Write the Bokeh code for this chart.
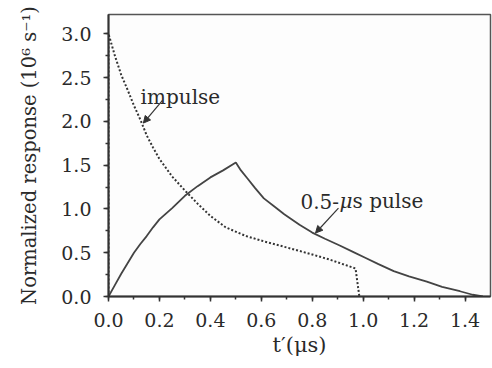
from bokeh.plotting import figure
from bokeh.models import Range1d, Label, Arrow, NormalHead, SingleIntervalTicker, PrintfTickFormatter
from bokeh.embed import file_html
from bokeh.resources import INLINE

# impulse response (dotted)
impulse_t = [0.0, 0.0, 0.01, 0.025, 0.05, 0.075, 0.10, 0.125, 0.15, 0.175, 0.20, 0.25, 0.30, 0.35,
             0.40, 0.46, 0.54, 0.61, 0.70, 0.80, 0.87, 0.97, 0.985]
impulse_y = [0.0, 3.0, 2.90, 2.75, 2.53, 2.36, 2.18, 2.02, 1.84, 1.70, 1.57, 1.37, 1.21, 1.06,
             0.92, 0.79, 0.69, 0.63, 0.56, 0.48, 0.42, 0.32, 0.0]

# 0.5-us pulse response (solid)
pulse_t = [0.0, 0.025, 0.05, 0.075, 0.10, 0.125, 0.15, 0.175, 0.20, 0.25, 0.30, 0.35, 0.40, 0.45, 0.50,
           0.52, 0.545, 0.575, 0.61, 0.65, 0.69, 0.75, 0.80, 0.85, 0.91, 0.96, 1.01, 1.06, 1.12,
           1.18, 1.25, 1.31, 1.38, 1.43, 1.47]
pulse_y = [0.0, 0.13, 0.26, 0.38, 0.50, 0.60, 0.69, 0.79, 0.88, 1.01, 1.15, 1.26, 1.36, 1.44, 1.53,
           1.44, 1.35, 1.24, 1.12, 1.03, 0.94, 0.82, 0.73, 0.66, 0.58, 0.51, 0.44, 0.37, 0.29,
           0.23, 0.17, 0.11, 0.06, 0.02, 0.0]

x_label = "t\u2032(\u03bcs)"
y_label = "Normalized response (10\u2076 s\u207b\u00b9)"

FONT = "DejaVu Serif"
INK = "#2a2a2a"

p = figure(width=492, height=368, x_range=Range1d(0, 1.5), y_range=Range1d(0, 3.22),
           output_backend="svg", toolbar_location=None,
           min_border_left=108, min_border_right=2, min_border_top=14, min_border_bottom=72)
p.grid.visible = False
p.outline_line_color = "#555555"
p.outline_line_width = 1.5
p.background_fill_color = "#fdfdfd"

p.xaxis.ticker = SingleIntervalTicker(interval=0.2, num_minor_ticks=2)
p.yaxis.ticker = SingleIntervalTicker(interval=0.5, num_minor_ticks=2)
p.xaxis.formatter = PrintfTickFormatter(format="%.1f")
p.yaxis.formatter = PrintfTickFormatter(format="%.1f")
p.xaxis.axis_label = x_label
p.yaxis.axis_label = y_label

for ax in (p.xaxis[0], p.yaxis[0]):
    ax.axis_line_width = 2
    ax.axis_line_color = "#333333"
    ax.major_tick_out = 5
    ax.major_tick_in = 0
    ax.minor_tick_out = 3
    ax.minor_tick_in = 0
    ax.major_tick_line_color = "#333333"
    ax.minor_tick_line_color = "#333333"
    ax.major_tick_line_width = 1.5
    ax.minor_tick_line_width = 1.5
    ax.major_label_text_font = FONT
    ax.major_label_text_font_size = "19px"
    ax.major_label_text_color = INK
    ax.axis_label_text_font = FONT
    ax.axis_label_text_font_style = "normal"
    ax.axis_label_text_color = INK

p.xaxis.axis_label_text_font_size = "21px"
p.yaxis.axis_label_text_font_size = "19.5px"
p.xaxis.major_label_standoff = 11
p.yaxis.major_label_standoff = 12
p.xaxis.axis_label_standoff = 3
p.yaxis.axis_label_standoff = 17

p.line(pulse_t, pulse_y, line_color="#444444", line_width=1.8)
p.line(impulse_t, impulse_y, line_color="#333333", line_width=2, line_dash="2 2")

def lab(x, y, text, dx=0, style="normal"):
    p.add_layout(Label(x=x, y=y, x_offset=dx, text=text, text_font=FONT, text_font_size="20px",
                       text_font_style=style, text_color=INK, text_baseline="alphabetic"))

lab(0.126, 2.28, "impulse")
lab(0.754, 1.09, "0.5-")
lab(0.754, 1.09, "\u03bc", dx=39, style="italic")
lab(0.754, 1.09, "s pulse", dx=52)

head = dict(size=7, fill_color="#333333", line_color="#333333")
p.add_layout(Arrow(end=NormalHead(**head), x_start=0.212, y_start=2.24, x_end=0.137, y_end=1.98,
                   line_color="#333333", line_width=1.2))
p.add_layout(Arrow(end=NormalHead(**head), x_start=0.903, y_start=1.01, x_end=0.813, y_end=0.725,
                   line_color="#333333", line_width=1.2))

open("out.html", "w").write(file_html(p, INLINE))
